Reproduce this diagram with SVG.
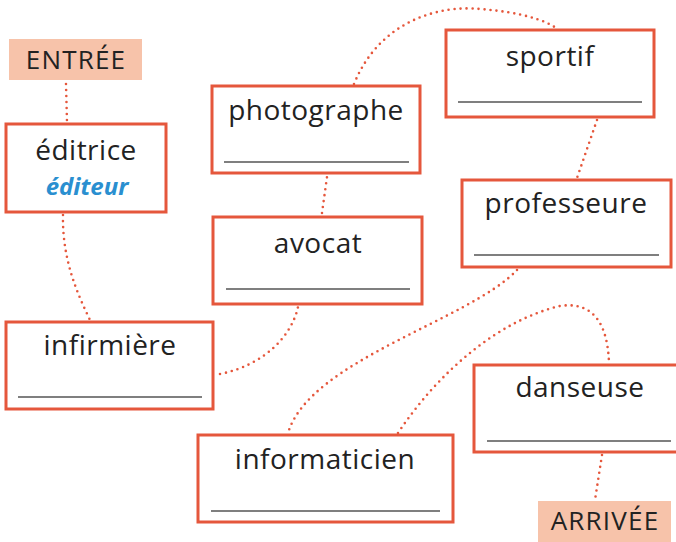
<svg xmlns="http://www.w3.org/2000/svg" width="676" height="542" viewBox="0 0 676 542">
<style>
.box{fill:#fff;stroke:#e5573c;stroke-width:3}
.tag{fill:#f7c3aa}
.t{font-family:"Open Sans",Lato,sans-serif;font-size:28px;letter-spacing:0.5px;fill:#222;text-anchor:middle;font-variant-ligatures:none}
.tt{font-family:"Open Sans",Lato,sans-serif;font-size:26px;letter-spacing:1.2px;fill:#222;text-anchor:middle}
.ln{stroke:#555;stroke-width:1.5}
.c{fill:none;stroke:#e5573c;stroke-width:2.6;stroke-linecap:round;stroke-dasharray:0 6}
.b{font-family:"Noto Sans",sans-serif;font-style:italic;font-weight:bold;font-size:24px;fill:#2a8fd0;text-anchor:middle}
</style>
<rect width="676" height="542" fill="#fff"/>
<g id="connectors">
<path class="c" d="M66,84 L67,122"/>
<path class="c" d="M63,215 C62,260 78,295 90,320"/>
<path class="c" d="M220,374 C265,365 292,335 298,307"/>
<path class="c" d="M322,213 L327,177"/>
<path class="c" d="M354,84 C380,20 440,5 480,9 C520,12 545,20 556,28"/>
<path class="c" d="M597,120 L577,178"/>
<path class="c" d="M517,270 C470,320 310,360 288,433"/>
<path class="c" d="M398,433 C440,370 500,320 560,306 C600,300 608,335 609,363"/>
<path class="c" d="M602,455 L595,500"/>
</g>
<g id="entree"><rect class="tag" x="9" y="39" width="133" height="41"/><text class="tt" x="76" y="69">ENTRÉE</text></g>
<g id="editrice"><rect class="box" x="6" y="124" width="160" height="88"/><text class="t" x="86" y="160">éditrice</text><text class="b" x="87" y="195">éditeur</text></g>
<g id="photographe"><rect class="box" x="212" y="86" width="208" height="87"/><text class="t" x="316" y="120">photographe</text><line class="ln" x1="224" y1="162" x2="409" y2="162"/></g>
<g id="sportif"><rect class="box" x="446" y="30" width="208" height="87"/><text class="t" x="550" y="66">sportif</text><line class="ln" x1="458" y1="102" x2="642" y2="102"/></g>
<g id="avocat"><rect class="box" x="213" y="217" width="209" height="87"/><text class="t" x="318" y="253">avocat</text><line class="ln" x1="226" y1="289" x2="410" y2="289"/></g>
<g id="professeure"><rect class="box" x="462" y="180" width="209" height="87"/><text class="t" x="566" y="213">professeure</text><line class="ln" x1="474" y1="255" x2="659" y2="255"/></g>
<g id="infirmiere"><rect class="box" x="6" y="322" width="207" height="87"/><text class="t" x="110" y="355">infirmière</text><line class="ln" x1="18" y1="397" x2="202" y2="397"/></g>
<g id="danseuse"><rect class="box" x="474" y="365" width="210" height="87"/><text class="t" x="580" y="397">danseuse</text><line class="ln" x1="487" y1="441" x2="671" y2="441"/></g>
<g id="informaticien"><rect class="box" x="198" y="435" width="255" height="87"/><text class="t" x="325" y="469">informaticien</text><line class="ln" x1="211" y1="511" x2="440" y2="511"/></g>
<g id="arrivee"><rect class="tag" x="538" y="501" width="133" height="41"/><text class="tt" x="605" y="530">ARRIVÉE</text></g>
</svg>
